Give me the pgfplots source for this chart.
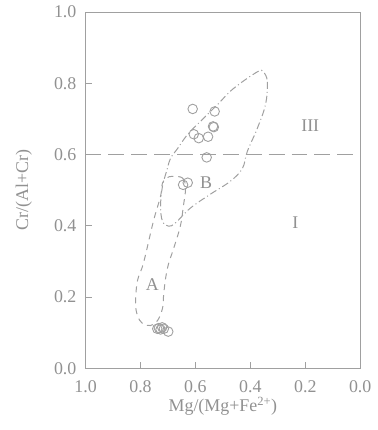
\documentclass[border=0pt]{standalone}
\usepackage{fontspec}
\setmainfont{Liberation Serif}
\usepackage{pgfplots}
\pgfplotsset{compat=1.18}
\definecolor{txt}{RGB}{145,145,145}
\definecolor{ln}{RGB}{160,160,160}
\begin{document}
\fontsize{18}{20}\selectfont
\begin{tikzpicture}
\begin{axis}[name=ax, scale only axis, width=276pt, height=358pt,
  xmin=0, xmax=1, ymin=0, ymax=1, x dir=reverse,
  xtick={0,0.2,0.4,0.6,0.8,1.0}, ytick={0,0.2,0.4,0.6,0.8,1.0},
  xticklabels={0.0,0.2,0.4,0.6,0.8,1.0},
  yticklabels={0.0,0.2,0.4,0.6,0.8,1.0},
  tick pos=left, tick align=inside, major tick length=6pt,
  axis line style={ln, line width=0.8pt}, tick style={ln, line width=0.8pt},
  ticklabel style={txt, font=\fontsize{18}{20}\selectfont},
  xticklabel style={yshift=-6pt},
  yticklabel style={xshift=-3pt},
  xlabel={Mg/(Mg+Fe\textsuperscript{2+})}, ylabel={Cr/(Al+Cr)},
  label style={txt, font=\fontsize{18}{20}\selectfont},
  xlabel style={yshift=8pt},
  ylabel style={yshift=10pt},
  clip=false]
% boundary line
\addplot[ln, line width=1pt, dash pattern=on 16pt off 7pt] coordinates {(1,0.6) (0,0.6)};
% region A
\addplot[ln, line width=1pt, dash pattern=on 6pt off 5pt, smooth cycle, tension=0.6] coordinates {
(0.684,0.539) (0.647,0.534) (0.636,0.506) (0.644,0.455) (0.655,0.399) (0.680,0.335)
(0.698,0.293) (0.709,0.251) (0.716,0.204) (0.720,0.168) (0.738,0.134) (0.764,0.120)
(0.793,0.126) (0.811,0.148) (0.818,0.184) (0.811,0.246) (0.789,0.296) (0.753,0.413)
(0.727,0.483) (0.720,0.520) (0.705,0.534)};
% region B
\addplot[ln, line width=1pt, dash pattern=on 7pt off 3pt on 1pt off 3pt, smooth cycle, tension=0.6] coordinates {
(0.353,0.832) (0.338,0.804) (0.345,0.740) (0.375,0.673) (0.411,0.609) (0.429,0.561)
(0.473,0.525) (0.545,0.489) (0.618,0.450) (0.673,0.408) (0.698,0.399) (0.720,0.413)
(0.727,0.455) (0.720,0.511) (0.702,0.561) (0.691,0.589) (0.665,0.617) (0.629,0.656)
(0.582,0.693) (0.520,0.740) (0.462,0.785) (0.375,0.832)};
% samples
\addplot[only marks, mark=o, mark size=4.8pt, mark options={ln, line width=0.9pt}] coordinates {
(0.610,0.728) (0.530,0.721) (0.536,0.679) (0.533,0.677) (0.606,0.657) (0.588,0.646)
(0.554,0.650) (0.559,0.592) (0.628,0.521) (0.645,0.515)
(0.733,0.113) (0.721,0.115) (0.715,0.111) (0.699,0.103) (0.739,0.111) (0.727,0.109)};
\node[txt, font=\fontsize{18}{20}\selectfont] at (axis cs:0.182,0.682) {III};
\node[txt, font=\fontsize{18}{20}\selectfont] at (axis cs:0.561,0.520) {B};
\node[txt, font=\fontsize{18}{20}\selectfont] at (axis cs:0.236,0.408) {I};
\node[txt, font=\fontsize{18}{20}\selectfont] at (axis cs:0.757,0.236) {A};
\end{axis}
\path ([xshift=-86pt,yshift=-62pt]ax.south west) rectangle ([xshift=4pt,yshift=10pt]ax.north east);
\end{tikzpicture}
\end{document}
